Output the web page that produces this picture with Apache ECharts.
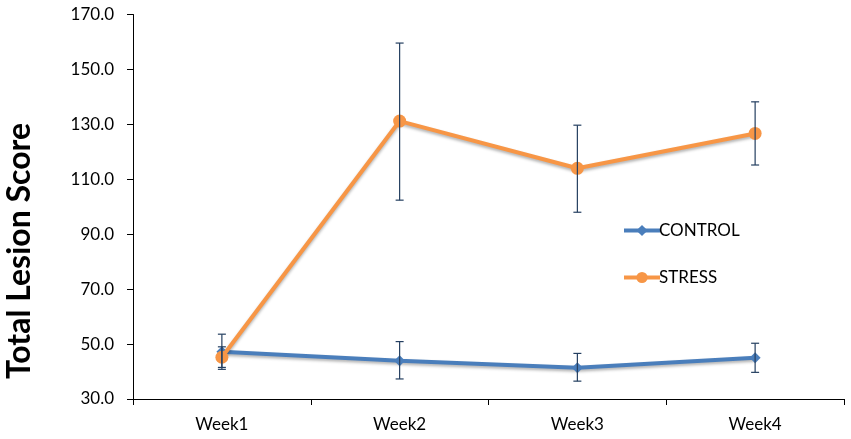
<!DOCTYPE html>
<html>
<head>
<meta charset="utf-8">
<script src="https://cdn.jsdelivr.net/npm/echarts@6/dist/echarts.min.js"></script>
<style>
	html, body { margin: 0; padding: 0; background: #fff; }
	#chart { width: 851px; height: 439px; }
</style>
</head>
<body>
<div id="chart"></div>
<script>
	var weeks = ['Week1', 'Week2', 'Week3', 'Week4'];
	var controlMean = [47.2, 43.9, 41.4, 45.0];
	var controlLow = [40.8, 37.3, 36.5, 39.7];
	var controlHigh = [53.6, 50.9, 46.6, 50.3];
	var stressMean = [45.2, 131.2, 114.0, 126.7];
	var stressLow = [41.5, 102.4, 98.0, 115.2];
	var stressHigh = [49.0, 159.6, 129.7, 138.2];
	var yTicks = [30, 50, 70, 90, 110, 130, 150, 170];

	var font = 'Lato';

	// error bars: [category index, low, high]
	function errData(low, high) {
		var out = [];
		for (var i = 0; i < low.length; i++) {
			out.push([i, low[i], high[i]]);
		}
		return out;
	}

	function renderErr(params, api) {
		var x = api.value(0);
		var lo = api.coord([x, api.value(1)]);
		var hi = api.coord([x, api.value(2)]);
		var cap = 4;
		var st = { stroke: '#243F60', lineWidth: 1.2 };
		return {
			type: 'group',
			children: [
				{ type: 'line', shape: { x1: lo[0], y1: lo[1], x2: hi[0], y2: hi[1] }, style: st },
				{ type: 'line', shape: { x1: lo[0] - cap, y1: lo[1], x2: lo[0] + cap, y2: lo[1] }, style: st },
				{ type: 'line', shape: { x1: hi[0] - cap, y1: hi[1], x2: hi[0] + cap, y2: hi[1] }, style: st }
			]
		};
	}

	var option = {
		backgroundColor: '#fff',
		animation: false,
		grid: { left: 133, right: 7, top: 14.5, bottom: 40 },
		legend: {
			data: ['CONTROL', 'STRESS'],
			orient: 'vertical',
			left: 617,
			top: 217,
			itemWidth: 36,
			itemHeight: 14,
			itemGap: 30,
			lineStyle: { width: 4 },
			textStyle: { fontFamily: font, fontSize: 17, color: '#000', padding: [0, 0, 0, -6] }
		},
		graphic: [{
			type: 'text',
			x: 20,
			y: 251,
			rotation: Math.PI / 2,
			style: {
				text: 'Total Lesion Score',
				fontFamily: font,
				fontWeight: 'bold',
				fontSize: 32,
				fill: '#000',
				textAlign: 'center',
				textVerticalAlign: 'middle'
			}
		}],
		xAxis: {
			type: 'category',
			data: weeks,
			boundaryGap: true,
			axisLine: { lineStyle: { color: '#000', width: 1 } },
			axisTick: { show: true, length: 6, lineStyle: { color: '#000' } },
			axisLabel: { fontFamily: font, fontSize: 17, color: '#000', margin: 17 }
		},
		yAxis: {
			type: 'value',
			min: yTicks[0],
			max: yTicks[yTicks.length - 1],
			interval: 20,
			axisLine: { show: true, lineStyle: { color: '#000', width: 1 } },
			axisTick: { show: true, length: 6, lineStyle: { color: '#000' } },
			splitLine: { show: false },
			axisLabel: {
				fontFamily: font, fontSize: 17, color: '#000', margin: 19,
				formatter: function (v) { return v.toFixed(1); }
			}
		},
		series: [{
			name: 'CONTROL',
			type: 'line',
			data: controlMean,
			symbol: 'diamond',
			symbolSize: 11,
			z: 3,
			itemStyle: { color: '#4A7EBB' },
			lineStyle: { color: '#4A7EBB', width: 4, shadowColor: 'rgba(0,0,0,0.3)', shadowBlur: 3, shadowOffsetY: 2 }
		}, {
			name: 'STRESS',
			type: 'line',
			data: stressMean,
			symbol: 'circle',
			symbolSize: 13,
			z: 4,
			itemStyle: { color: '#F79646' },
			lineStyle: { color: '#F79646', width: 4, shadowColor: 'rgba(0,0,0,0.3)', shadowBlur: 3, shadowOffsetY: 2 }
		}, {
			name: 'controlErr',
			type: 'custom',
			renderItem: renderErr,
			data: errData(controlLow, controlHigh),
			z: 5
		}, {
			name: 'stressErr',
			type: 'custom',
			renderItem: renderErr,
			data: errData(stressLow, stressHigh),
			z: 5
		}]
	};

	var eChart = echarts.init(document.getElementById('chart'));
	eChart.setOption(option);
</script>
</body>
</html>
